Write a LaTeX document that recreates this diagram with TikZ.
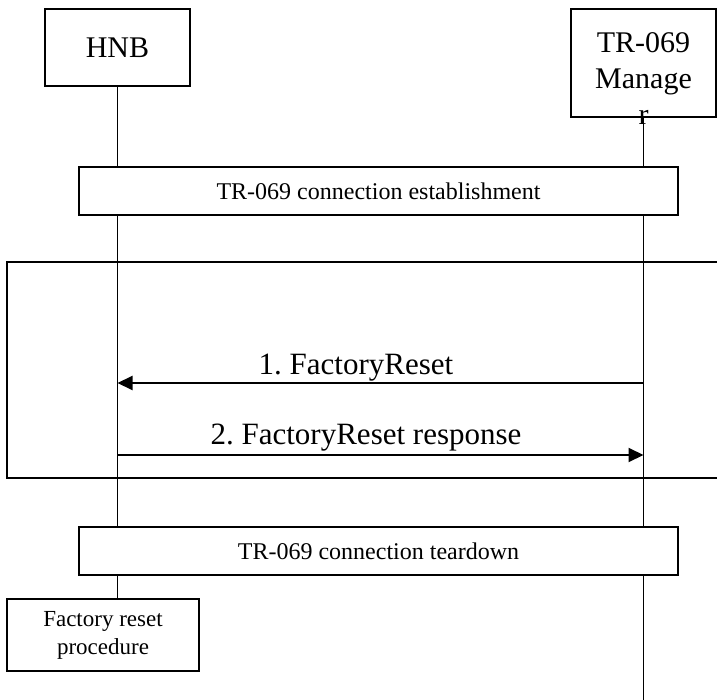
\documentclass[tikz,border=0pt]{standalone}
\usepackage{fontspec}
\setmainfont{Liberation Serif}
\usetikzlibrary{arrows.meta}
\frenchspacing

\begin{document}
\begin{tikzpicture}[x=1pt, y=-1pt,
    actor/.style={draw, line width=1.4pt, fill=white, minimum width=145pt, inner sep=0pt, font=\fontsize{30}{36}\selectfont},
    phase/.style={draw, line width=1.4pt, fill=white, minimum width=599pt, minimum height=48pt, font=\fontsize{24}{28}\selectfont},
    lifeline/.style={line width=1.4pt},
    msg/.style={line width=2pt, -{Triangle[length=15pt,width=14pt]}},
    msglabel/.style={anchor=base, inner sep=0pt, font=\fontsize{31}{36}\selectfont}]
    %%%%% START %%%%%
    \useasboundingbox (0,0) rectangle (717,700);

    \node[actor, minimum height=77pt] (hnb) at (117.5,47.5) {HNB};
    \node[actor, minimum height=108pt] (mgr) at (643.5,63) {};
    \node[anchor=north, inner sep=0pt, align=center, font=\fontsize{30}{36}\selectfont] (mgrtext) at (643.5,32) {TR-069\\Manage\\r};

    \node[draw, line width=1.4pt, fill=white, minimum width=192pt, minimum height=72pt, align=center, font=\fontsize{23}{28}\selectfont] (factory) at (103,635) {Factory reset\\procedure};

    \coordinate (mgrend) at (643.5,700);
    \draw[lifeline] (hnb.south) -- (hnb.south |- factory.north);
    \draw[lifeline] (mgr.south) -- (mgrend);

    \node[phase] (estab) at (378.5,191) {TR-069 connection establishment};
    \node[phase] (teardown) at (378.5,551) {TR-069 connection teardown};

    % frame, open to the right
    \draw[line width=1.2pt] (717,262) -- (7,262) -- (7,478) -- (717,478);

    \draw[msg] (mgr.south |- 0,383) -- (hnb.south |- 0,383);
    \node[msglabel] (reset) at (356,374) {1. FactoryReset};

    \draw[msg] (hnb.south |- 0,455) -- (mgr.south |- 0,455);
    \node[msglabel] (resetresp) at (366,444) {2. FactoryReset response};
    %%%%% END %%%%%
\end{tikzpicture}
\end{document}
